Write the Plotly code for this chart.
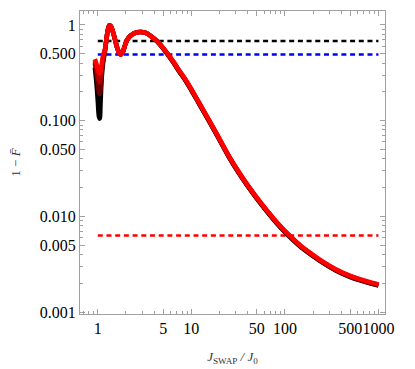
import plotly.graph_objects as go

# coupling ratio J_SWAP / J_0 (shared grid)
j_ratio = [0.93, 0.97, 1.0, 1.03, 1.05, 1.07, 1.1, 1.14, 1.19, 1.24, 1.28,
           1.33, 1.38, 1.44, 1.52, 1.6, 1.68, 1.76, 1.85, 1.95, 2.05, 2.2,
           2.4, 2.65, 2.9, 3.2, 3.6, 4.0, 4.3, 4.9, 5.6, 6.5, 7.5, 8.5, 10,
           12, 15, 19, 25, 32, 40, 55, 75, 100, 150, 200, 250, 350, 500, 700,
           1000]

# infidelity curves, from black (deepest dip) to red
infid_black = [0.36, 0.24, 0.16, 0.11, 0.105, 0.15, 0.27, 0.40, 0.52, 0.72, 0.88,
               0.99, 0.97, 0.87, 0.72, 0.59, 0.52, 0.49, 0.52, 0.61, 0.69, 0.76,
               0.81, 0.84, 0.845, 0.83, 0.78, 0.72, 0.673, 0.581, 0.49, 0.397, 0.32, 0.27, 0.2075,
               0.152, 0.1038, 0.0688, 0.0422, 0.0285, 0.0207, 0.01358, 0.00935, 0.00685, 0.00473,
               0.00384, 0.0033, 0.00272, 0.00232, 0.00208, 0.00189]
infid_dark = [0.40, 0.31, 0.24, 0.195, 0.19, 0.21, 0.31, 0.43, 0.53, 0.72, 0.88,
              0.99, 0.97, 0.87, 0.72, 0.59, 0.52, 0.49, 0.52, 0.61, 0.69, 0.76,
              0.81, 0.84, 0.845, 0.83, 0.78, 0.72, 0.677, 0.585, 0.493, 0.401, 0.323, 0.272, 0.21,
              0.154, 0.105, 0.0695, 0.0426, 0.0288, 0.0209, 0.01372, 0.00945, 0.00692, 0.00478,
              0.00388, 0.00333, 0.00274, 0.00234, 0.0021, 0.00191]
infid_mid = [0.42, 0.35, 0.29, 0.255, 0.25, 0.27, 0.35, 0.46, 0.54, 0.72, 0.88,
             0.99, 0.97, 0.87, 0.72, 0.59, 0.52, 0.49, 0.52, 0.61, 0.69, 0.76,
             0.81, 0.84, 0.845, 0.83, 0.78, 0.72, 0.68, 0.587, 0.496, 0.405, 0.327, 0.275, 0.212,
             0.155, 0.106, 0.0702, 0.0431, 0.0291, 0.0211, 0.01386, 0.00954, 0.00699, 0.00483,
             0.00392, 0.00337, 0.00277, 0.00237, 0.00212, 0.00193]
infid_red = [0.44, 0.39, 0.345, 0.315, 0.31, 0.32, 0.39, 0.48, 0.55, 0.72, 0.88,
             0.99, 0.97, 0.87, 0.72, 0.59, 0.52, 0.49, 0.52, 0.61, 0.69, 0.76,
             0.81, 0.84, 0.845, 0.83, 0.78, 0.72, 0.68, 0.59, 0.50, 0.409, 0.330, 0.278, 0.214,
             0.157, 0.107, 0.0709, 0.0435, 0.0294, 0.0213, 0.0140, 0.00964, 0.00706, 0.00488,
             0.00396, 0.0034, 0.0028, 0.00239, 0.00214, 0.00195]

# reference levels (dashed)
level_black = 0.68
level_blue = 0.49
level_red = 0.0063
level_span = [1, 1000]

x_ticks = [1, 5, 10, 50, 100, 500, 1000]
x_ticktext = ['1', '5', '10', '50', '100', '500', '1000']
y_ticks = [0.001, 0.005, 0.01, 0.05, 0.1, 0.5, 1]
y_ticktext = ['0.001', '0.005', '0.010', '0.050', '0.100', '0.500', '1']

x_minor = [0.7, 0.8, 0.9, 2, 3, 4, 6, 7, 8, 9, 20, 30, 40, 60, 70, 80, 90,
           200, 300, 400, 600, 700, 800, 900]
y_minor = [0.002, 0.003, 0.004, 0.006, 0.007, 0.008, 0.009,
           0.02, 0.03, 0.04, 0.06, 0.07, 0.08, 0.09,
           0.2, 0.3, 0.4, 0.6, 0.7, 0.8, 0.9]

fig = go.Figure()

# dashed reference lines
for level, color in [(level_black, 'black'), (level_blue, '#0000ff'),
                     (level_red, '#ff0000')]:
    fig.add_trace(go.Scatter(
        x=level_span, y=[level, level], mode='lines',
        line=dict(color=color, width=2.5, dash='5px,3.7px'),
        showlegend=False, hoverinfo='skip',
    ))

# family of curves, black underneath, red on top
for ys, color in [(infid_black, '#000000'), (infid_dark, '#6a0000'),
                  (infid_mid, '#b00000'), (infid_red, '#ff0000')]:
    fig.add_trace(go.Scatter(
        x=j_ratio, y=ys, mode='lines',
        line=dict(color=color, width=4.5, shape='spline', smoothing=1.0),
        showlegend=False,
    ))

axis_common = dict(
    type='log',
    showline=True,
    linecolor='#a0a0a0',
    linewidth=1,
    mirror='ticks',
    ticks='inside',
    ticklen=5,
    tickcolor='#a0a0a0',
    showgrid=False,
    zeroline=False,
    tickangle=0,
    tickfont=dict(family='Liberation Serif', size=16, color='black'),
)

fig.update_xaxes(
    **axis_common,
    range=[-0.19, 3.07],
    tickmode='array', tickvals=x_ticks, ticktext=x_ticktext,
    minor=dict(tickmode='array', tickvals=x_minor, ticks='inside',
               ticklen=3, tickcolor='#a0a0a0'),
    title=dict(text='<i>J</i><sub>SWAP</sub><i> / J</i><sub>0</sub>',
               font=dict(family='Liberation Serif', size=13, color='#333333'),
               standoff=15),
)
fig.update_yaxes(
    **axis_common,
    range=[-3.02, 0.146],
    tickmode='array', tickvals=y_ticks, ticktext=y_ticktext,
    minor=dict(tickmode='array', tickvals=y_minor, ticks='inside',
               ticklen=3, tickcolor='#a0a0a0'),
    title=dict(text='1 − <i>F\u0304</i>',
               font=dict(family='Liberation Serif', size=13, color='#333333'),
               standoff=16),
)

fig.update_layout(
    width=415,
    height=369,
    margin=dict(l=72, r=38, t=3, b=63, autoexpand=False),
    plot_bgcolor='white',
    paper_bgcolor='white',
)

fig.write_html('out.html')
